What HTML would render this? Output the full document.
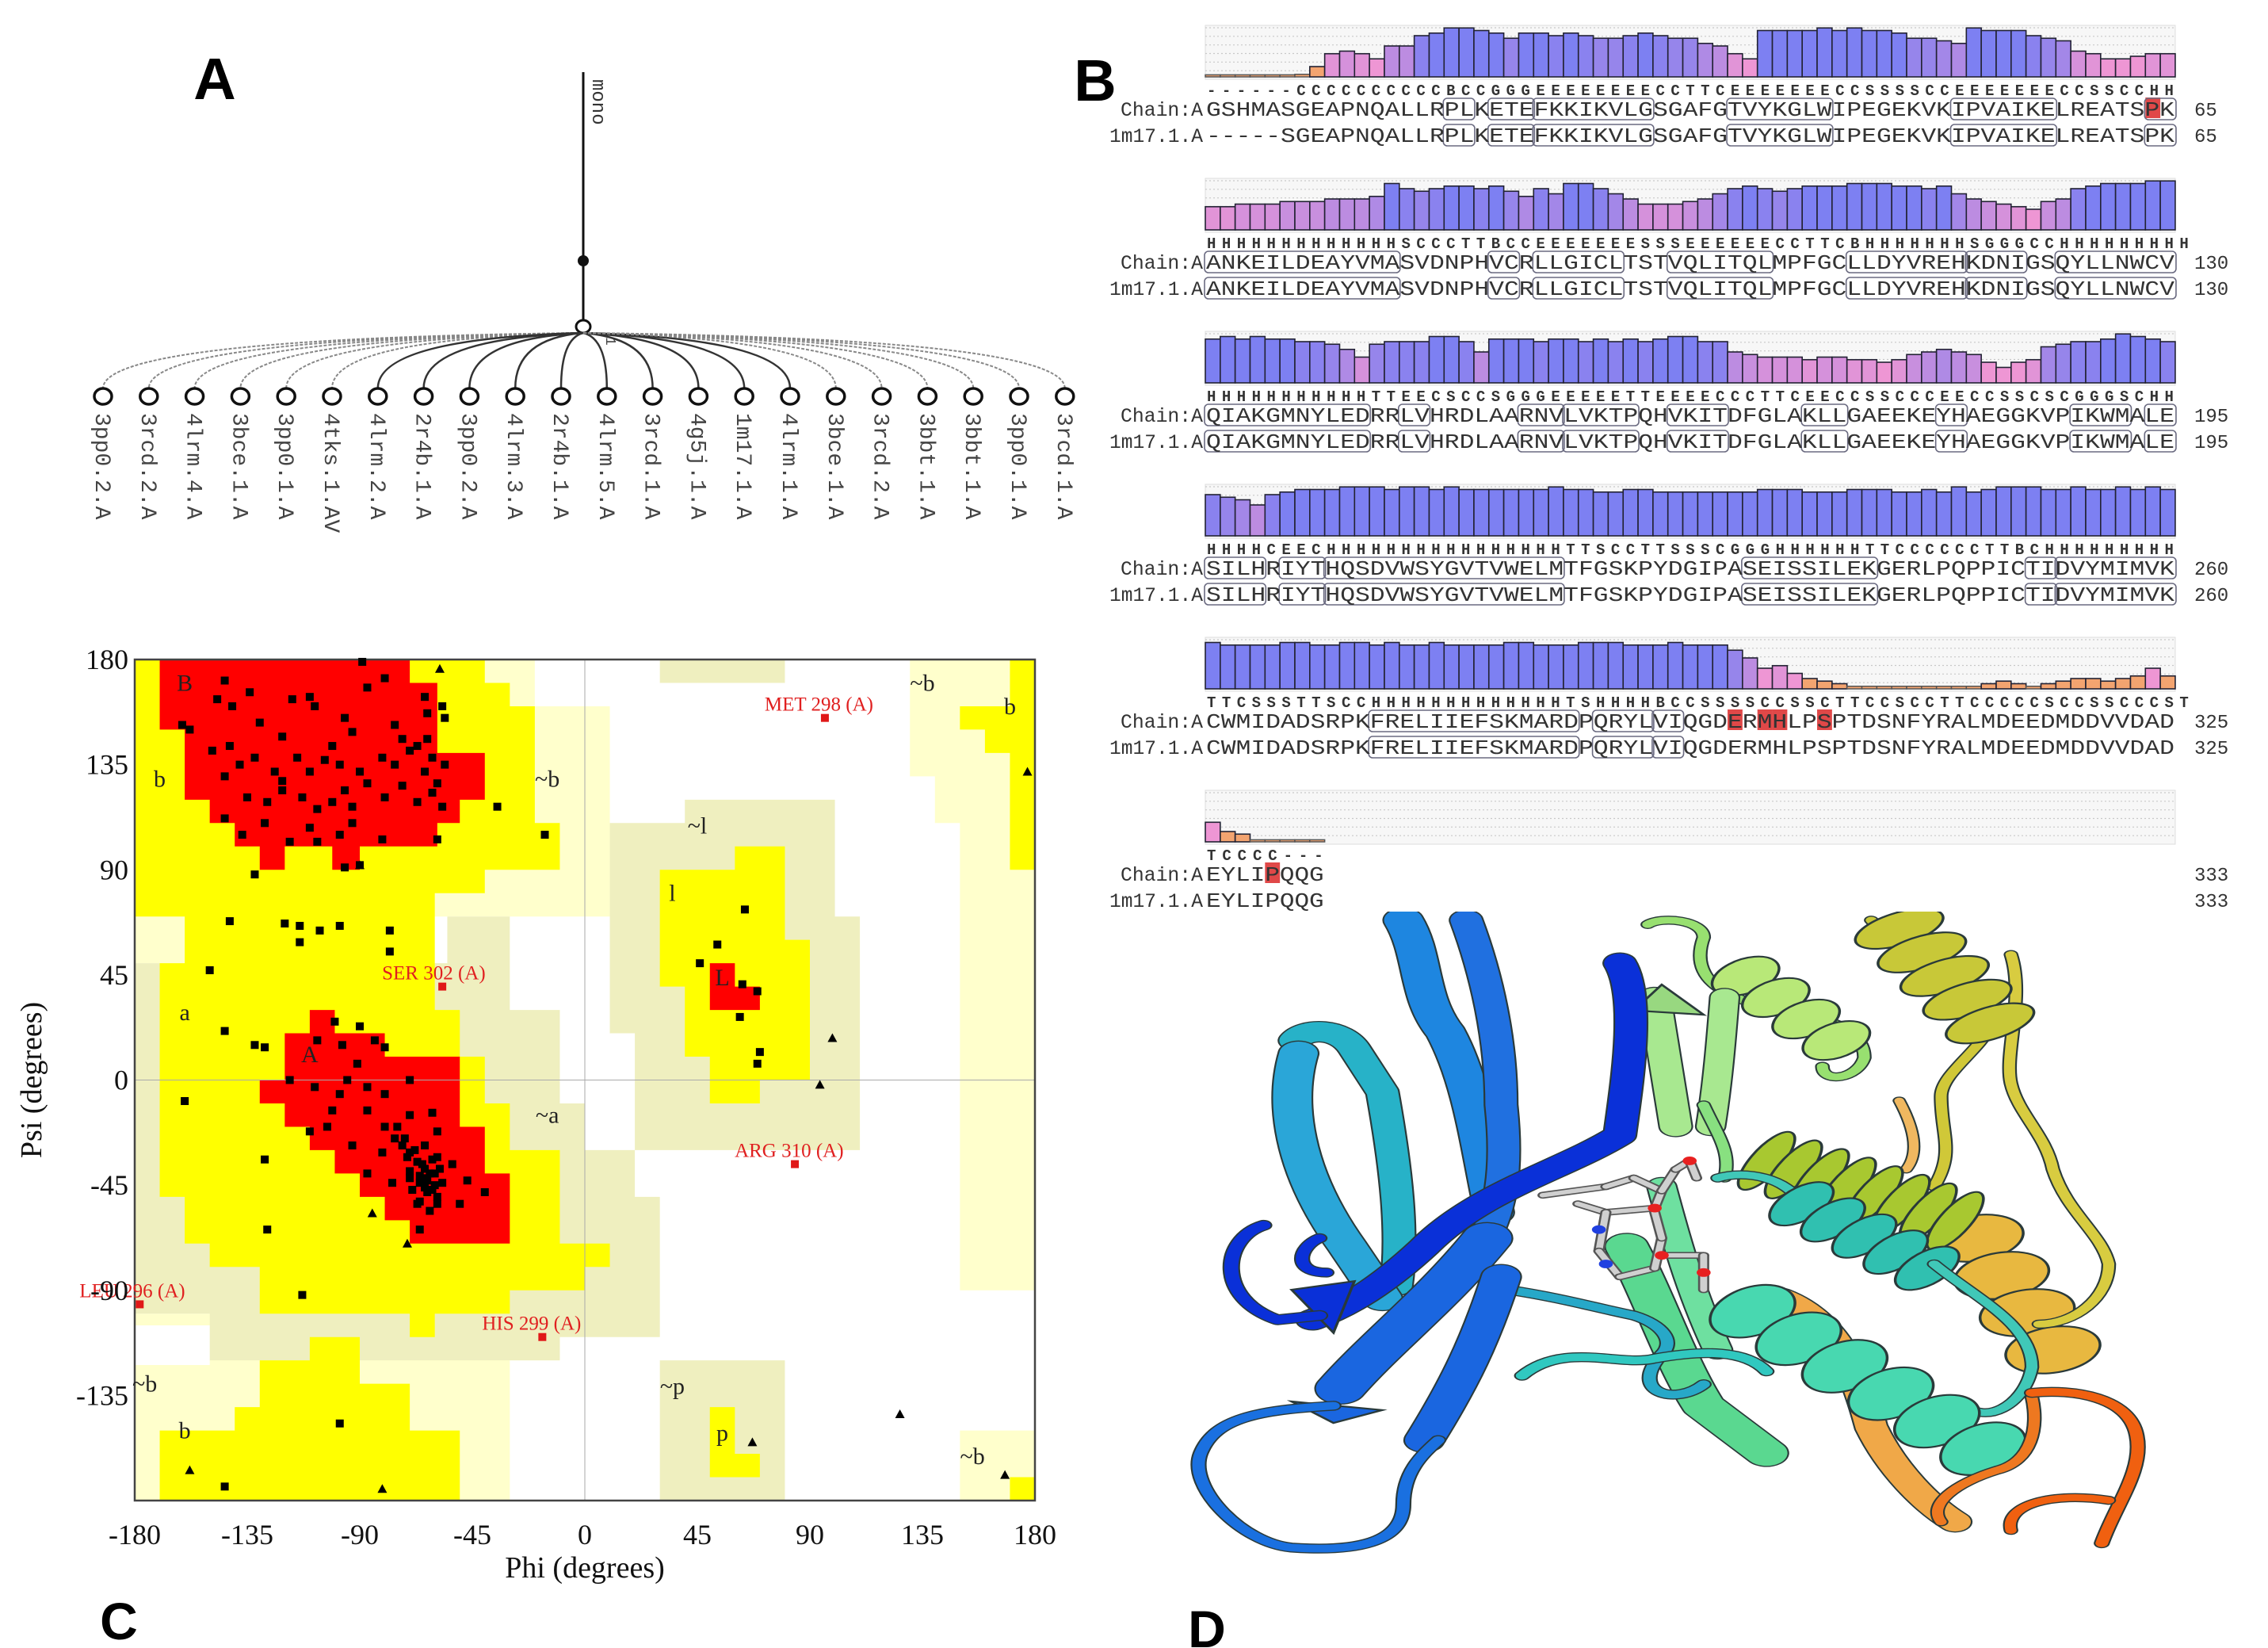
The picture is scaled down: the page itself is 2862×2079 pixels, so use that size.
<!DOCTYPE html>
<html><head><meta charset="utf-8"><title>Figure</title>
<style>
html,body{margin:0;padding:0;background:#fff;}
svg{display:block;}
</style></head>
<body>
<svg id="fig" xmlns="http://www.w3.org/2000/svg" width="2862" height="2079" viewBox="0 0 2862 2079">
<rect x="0" y="0" width="2862" height="2079" fill="#fff"/>
<g id="panelA"></g>
<g id="panelB"></g>
<g id="panelC"></g>
<svg id="panelD" x="1480" y="1150" width="1382" height="850" viewBox="0 0 1568 1568" preserveAspectRatio="none"></svg>
<text x="271" y="125" font-family="Liberation Sans, sans-serif" font-weight="bold" font-size="74" text-anchor="middle">A</text>
<text x="1382" y="127" font-family="Liberation Sans, sans-serif" font-weight="bold" font-size="74" text-anchor="middle">B</text>
<text x="150" y="2068" font-family="Liberation Sans, sans-serif" font-weight="bold" font-size="66" text-anchor="middle">C</text>
<text x="1523" y="2078" font-family="Liberation Sans, sans-serif" font-weight="bold" font-size="66" text-anchor="middle">D</text>
</svg>
<script>
// ================= DATA =================
// Panel A tree leaves
const treeLeaves = ["3pp0.2.A","3rcd.2.A","4lrm.4.A","3bce.1.A","3pp0.1.A","4tks.1.AV","4lrm.2.A","2r4b.1.A","3pp0.2.A","4lrm.3.A","2r4b.1.A","4lrm.5.A","3rcd.1.A","4g5j.1.A","1m17.1.A","4lrm.1.A","3bce.1.A","3rcd.2.A","3bbt.1.A","3bbt.1.A","3pp0.1.A","3rcd.1.A"];

// Panel B alignment
const occ1 = [0.04,0.04,0.04,0.04,0.04,0.04,0.05,0.2,0.45,0.5,0.45,0.35,0.6,0.6,0.8,0.85,0.95,0.95,0.9,0.85,0.75,0.85,0.85,0.8,0.85,0.8,0.75,0.75,0.8,0.85,0.8,0.75,0.75,0.65,0.6,0.45,0.35,0.9,0.9,0.9,0.9,0.95,0.9,0.95,0.9,0.9,0.85,0.75,0.75,0.7,0.65,0.95,0.9,0.9,0.9,0.8,0.75,0.7,0.5,0.45,0.35,0.35,0.4,0.45,0.45];
const occ2 = [0.45,0.45,0.5,0.5,0.5,0.55,0.55,0.55,0.6,0.6,0.6,0.65,0.9,0.8,0.75,0.8,0.85,0.85,0.8,0.85,0.75,0.65,0.8,0.7,0.9,0.9,0.8,0.7,0.6,0.5,0.5,0.5,0.55,0.6,0.7,0.8,0.85,0.8,0.75,0.8,0.85,0.85,0.85,0.9,0.9,0.9,0.85,0.85,0.8,0.85,0.7,0.6,0.55,0.5,0.45,0.4,0.55,0.6,0.8,0.85,0.9,0.9,0.9,0.95,0.95];
const occ3 = [0.85,0.9,0.85,0.9,0.85,0.85,0.8,0.8,0.75,0.65,0.5,0.75,0.8,0.8,0.8,0.9,0.9,0.8,0.6,0.85,0.85,0.85,0.8,0.85,0.85,0.8,0.85,0.8,0.85,0.8,0.85,0.9,0.9,0.8,0.8,0.6,0.55,0.5,0.5,0.5,0.45,0.5,0.5,0.45,0.45,0.4,0.45,0.55,0.6,0.65,0.6,0.55,0.4,0.3,0.4,0.45,0.7,0.75,0.8,0.8,0.85,0.95,0.9,0.85,0.8];
const occ4 = [0.8,0.75,0.7,0.6,0.8,0.85,0.9,0.9,0.9,0.95,0.95,0.95,0.9,0.95,0.95,0.9,0.95,0.9,0.9,0.9,0.9,0.9,0.9,0.95,0.9,0.9,0.85,0.85,0.9,0.9,0.85,0.85,0.85,0.85,0.85,0.85,0.85,0.9,0.9,0.9,0.85,0.85,0.85,0.9,0.9,0.9,0.85,0.85,0.9,0.85,0.95,0.85,0.9,0.95,0.95,0.95,0.9,0.9,0.95,0.9,0.9,0.95,0.9,0.95,0.9];
const occ5 = [0.9,0.85,0.85,0.85,0.85,0.9,0.9,0.85,0.85,0.9,0.9,0.85,0.9,0.85,0.85,0.9,0.85,0.85,0.85,0.85,0.9,0.9,0.85,0.85,0.85,0.9,0.9,0.9,0.85,0.85,0.85,0.9,0.85,0.85,0.85,0.75,0.6,0.4,0.45,0.3,0.2,0.15,0.1,0.05,0.05,0.05,0.05,0.05,0.05,0.05,0.05,0.05,0.1,0.15,0.1,0.05,0.1,0.15,0.2,0.2,0.15,0.2,0.25,0.4,0.25];
const occ6 = [0.38,0.2,0.15,0.04,0.04,0.04,0.04,0.04];
const ssRows = ["------CCCCCCCCCCBCCGGGEEEEEEEECCTTCEEEEEEECCSSSSCCEEEEEEECCSSCCHH",
"HHHHHHHHHHHHHSCCCTTBCCEEEEEEESSSEEEEEECCTTCBHHHHHHHSGGGCCHHHHHHHHH",
"HHHHHHHHHHHTTEECSCCSGGGEEEEETTEEEECCCTTCEECCSSCCCEECCSSCSCGGGSCHH",
"HHHHCEECHHHHHHHHHHHHHHHHTTSCCTTSSSCGGGHHHHHHTTCCCCCCTTBCHHHHHHHHH",
"TTCSSSTTSCCHHHHHHHHHHHHHTSHHHHBCCSSSSCCSSCTTCCSCCTTCCCCCSCCSSCCCST",
"TCCCC---"];
const chainRows = ["GSHMASGEAPNQALLRPLKETEFKKIKVLGSGAFGTVYKGLWIPEGEKVKIPVAIKELREATSPK",
"ANKEILDEAYVMASVDNPHVCRLLGICLTSTVQLITQLMPFGCLLDYVREHKDNIGSQYLLNWCV",
"QIAKGMNYLEDRRLVHRDLAARNVLVKTPQHVKITDFGLAKLLGAEEKEYHAEGGKVPIKWMALE",
"SILHRIYTHQSDVWSYGVTVWELMTFGSKPYDGIPASEISSILEKGERLPQPPICTIDVYMIMVK",
"CWMIDADSRPKFRELIIEFSKMARDPQRYLVIQGDERMHLPSPTDSNFYRALMDEEDMDDVVDAD",
"EYLIPQQG"];
const queryRows = ["-----SGEAPNQALLRPLKETEFKKIKVLGSGAFGTVYKGLWIPEGEKVKIPVAIKELREATSPK",
"ANKEILDEAYVMASVDNPHVCRLLGICLTSTVQLITQLMPFGCLLDYVREHKDNIGSQYLLNWCV",
"QIAKGMNYLEDRRLVHRDLAARNVLVKTPQHVKITDFGLAKLLGAEEKEYHAEGGKVPIKWMALE",
"SILHRIYTHQSDVWSYGVTVWELMTFGSKPYDGIPASEISSILEKGERLPQPPICTIDVYMIMVK",
"CWMIDADSRPKFRELIIEFSKMARDPQRYLVIQGDERMHLPSPTDSNFYRALMDEEDMDDVVDAD",
"EYLIPQQG"];
const rowEnds = [65,130,195,260,325,333];
const ssBoxes = [[[16,17],[19,21],[22,29],[35,41],[50,56],[63,64]],
[[0,12],[19,20],[22,27],[31,37],[43,50],[51,54],[57,64]],
[[0,10],[13,14],[21,23],[24,28],[31,34],[40,42],[49,50],[58,61],[63,64]],
[[0,3],[5,7],[8,23],[36,44],[55,56],[57,64]],
[[11,24],[26,29],[30,31]],
[]];
const redMarks = [[63],[],[],[],[35,37,38,41],[4]];

// Panel C Ramachandran data
const phiTicks = [-180,-135,-90,-45,0,45,90,135,180];
const psiTicks = [180,135,90,45,0,-45,-90,-135];
const sqPhi = [-89,-80,-144,-134,-110,-87,-64,-63,-57,-56,-161,-158,-147,-141,-130,-121,-117,-108,-96,-93,-76,-73,-67,-63,-61,-56,-149,-142,-138,-144,-132,-124,-121,-115,-110,-104,-101,-98,-90,-81,-76,-70,-64,-59,-135,-127,-121,-113,-107,-101,-96,-93,-87,-80,-73,-67,-61,-57,-144,-137,-128,-118,-110,-107,-98,-93,-81,-96,-90,-132,-35,-16,-59,
-142,-120,-114,-114,-106,-98,-78,-78,-150,-160,-144,-132,-128,-128,-127,-113,-98,-144,
-100,-90,-107,-97,-84,-95,-91,-80,-118,-108,-98,-87,-80,-70,-101,-87,-80,-70,-61,-59,-110,-103,-93,-81,-76,-70,-64,-59,-87,-77,-70,-64,-61,-67,-59,-53,-47,-40,-50,-66,-73,-71,-67,-64,-63,-60,-57,-66,-69,
-62,-65,-60,-63,-58,-66,-61,-68,-64,-59,-70,-72,-75,-66,-62,
64,53,46,63,69,62,70,69];
const sqPsi = [179,172,171,166,164,168,164,157,160,155,152,150,163,160,153,147,163,160,155,149,152,146,143,146,138,135,141,143,135,130,138,132,128,138,132,137,143,135,132,138,135,141,132,127,121,119,124,121,116,119,124,117,127,121,126,119,123,117,112,105,110,102,108,102,105,110,103,91,92,88,117,105,103,
68,67,66,59,64,66,64,55,47,-9,21,15,14,-34,-64,-92,-147,-174,
25,23,17,15,17,0,7,14,0,-3,-6,-3,-6,0,-13,-13,-20,-15,-14,-22,-22,-20,-28,-31,-25,-31,-28,-33,-40,-44,-39,-42,-47,-53,-53,-36,-43,-48,-53,-64,-28,-33,-35,-38,-43,-40,-44,-44,-47,
-40,-36,-45,-48,-38,-41,-34,-30,-46,-50,-42,-25,-20,-52,-56,
73,58,50,41,38,27,12,7];
const triPhi = [-58,-90,99,94,177,-85,-71,67,126,168,-158,-81];
const triPsi = [176,92,18,-2,132,-57,-70,-155,-143,-169,-167,-175];
const outNames = ["MET 298 (A)","SER 302 (A)","ARG 310 (A)","LEU 296 (A)","HIS 299 (A)"];
const outPhi = [96,-57,84,-178,-17];
const outPsi = [155,40,-36,-96,-110];
const regionLabels = [["B",-160,170],["b",-170,129],["a",-160,29],["A",-110,11],["L",55,44],["l",35,80],["~l",45,109],["~b",-15,129],["~a",-15,-15],["~b",135,170],["b",170,160],["~b",-176,-130],["b",-160,-150],["~p",35,-131],["p",55,-151],["~b",155,-161]];

// region polygons [phi,psi]
const lightRegions = [
 [[-180,180],[-20,180],[-20,160],[10,160],[10,70],[-160,70],[-160,50],[-180,50]],
 [[-180,-100],[-10,-100],[-10,-120],[-30,-120],[-30,-180],[-180,-180]],
 [[130,180],[180,180],[180,-90],[150,-90],[150,110],[140,110],[140,130],[130,130]],
 [[150,-150],[180,-150],[180,-180],[150,-180]]];
const beigeRegions = [
 [[-180,50],[-55,50],[-55,70],[-30,70],[-30,30],[-10,30],[-10,-10],[0,-10],[0,-30],[20,-30],[20,-50],[30,-50],[30,-110],[-10,-110],[-10,-120],[-150,-120],[-150,-100],[-180,-100]],
 [[10,110],[40,110],[40,120],[100,120],[100,70],[110,70],[110,-30],[20,-30],[20,20],[10,20]],
 [[30,-120],[80,-120],[80,-180],[30,-180]],
 [[30,180],[80,180],[80,170],[30,170]]];
const yellowRegions = [
 [[-180,180],[-40,180],[-40,170],[-30,170],[-30,160],[-20,160],[-20,110],[-10,110],[-10,90],[-40,90],[-40,80],[-60,80],[-60,30],[-50,30],[-50,10],[-40,10],[-40,-10],[-30,-10],[-30,-30],[-10,-30],[-10,-70],[10,-70],[10,-80],[0,-80],[0,-90],[-30,-90],[-30,-100],[-60,-100],[-60,-110],[-70,-110],[-70,-100],[-130,-100],[-130,-80],[-150,-80],[-150,-70],[-160,-70],[-160,-50],[-170,-50],[-170,50],[-160,50],[-160,70],[-180,70]],
 [[-170,-180],[-50,-180],[-50,-150],[-70,-150],[-70,-130],[-90,-130],[-90,-110],[-110,-110],[-110,-120],[-130,-120],[-130,-140],[-140,-140],[-140,-150],[-170,-150]],
 [[30,90],[60,90],[60,100],[80,100],[80,60],[90,60],[90,0],[70,0],[70,-10],[50,-10],[50,10],[40,10],[40,40],[30,40]],
 [[50,-140],[60,-140],[60,-160],[70,-160],[70,-170],[50,-170]],
 [[170,180],[180,180],[180,90],[170,90],[170,140],[160,140],[160,150],[150,150],[150,160],[170,160]],
 [[170,-170],[180,-170],[180,-180],[170,-180]]];
const redRegions = [
 [[-170,180],[-70,180],[-70,170],[-59,170],[-59,140],[-40,140],[-40,120],[-50,120],[-50,110],[-59,110],[-59,100],[-90,100],[-90,90],[-101,90],[-101,100],[-120,100],[-120,90],[-130,90],[-130,100],[-140,100],[-140,110],[-150,110],[-150,120],[-160,120],[-160,150],[-170,150]],
 [[-110,30],[-100,30],[-100,20],[-80,20],[-80,10],[-50,10],[-50,-20],[-40,-20],[-40,-40],[-30,-40],[-30,-70],[-70,-70],[-70,-60],[-80,-60],[-80,-50],[-90,-50],[-90,-40],[-100,-40],[-100,-30],[-110,-30],[-110,-20],[-120,-20],[-120,-10],[-130,-10],[-130,0],[-120,0],[-120,20],[-110,20]],
 [[50,50],[60,50],[60,40],[70,40],[70,30],[50,30]]];
const whiteRegions = [[[-180,-105],[-150,-105],[-150,-122],[-180,-122]]];

// ================= HELPERS =================
const NS = "http://www.w3.org/2000/svg";
function mk(tag, parent, attrs){
  const e = document.createElementNS(NS, tag);
  for (const k in attrs) e.setAttribute(k, attrs[k]);
  parent.appendChild(e);
  return e;
}

// ================= PANEL A =================
(function(){
  const g = document.getElementById('panelA');
  const x0 = 130, dx = 57.8, rootX = 736, rootY = 412, leafY = 500;
  const stem = mk('line', g, {x1:rootX, y1:91, x2:rootX, y2:403, stroke:'#111', 'stroke-width':3});
  
  
  const dot = mk('circle', g, {cx:rootX, cy:329, r:7, fill:'#111'});
  
  
  const rn = mk('ellipse', g, {cx:rootX, cy:rootY, rx:9, ry:8, fill:'#fff', stroke:'#111', 'stroke-width':3});
  
  
  const mono = mk('text', g, {x:748, y:100, 'font-family':'Liberation Mono, monospace', 'font-size':24, fill:'#333', transform:'rotate(90 748 100)'});
  mono.textContent = 'mono';
  
  
  const one = mk('text', g, {x:765, y:425, 'font-family':'Liberation Mono, monospace', 'font-size':18, fill:'#444', transform:'rotate(90 765 425)'});
  one.textContent = '1';
  
  
  treeLeaves.forEach((name, i) => {
    const x = x0 + i*dx;
    const far = Math.abs(x - rootX) > 300;
    const p = mk('path', g, {d:`M${rootX},${rootY+8} Q${x},${rootY+15} ${x},${leafY-10}`, fill:'none', stroke: far ? '#888' : '#333', 'stroke-width': far ? 2 : 2.5, 'stroke-dasharray': far ? '4 2' : 'none'});
    
    
    const c = mk('ellipse', g, {cx:x, cy:leafY, rx:11, ry:10, fill:'#fff', stroke:'#111', 'stroke-width':3.5});
    
    
    const t = mk('text', g, {x:x-9, y:521, 'font-family':'Liberation Mono, monospace', 'font-size':28, fill:'#444', transform:`rotate(90 ${x-9} 521)`});
    t.textContent = name;
    
    
  });
})();

// ================= PANEL B =================
(function(){
  const g = document.getElementById('panelB');
  const occ = [occ1,occ2,occ3,occ4,occ5,occ6];
  const sx = 1521, cw = 18.83, blockGap = 193, chain0 = 137;
  function barColor(v){
    if (v < 0.3) return '#f3a470';
    let t = Math.max(0, Math.min(1, (v-0.4)/0.45));
    const a=[238,150,212], b=[125,128,242];
    return `rgb(${Math.round(a[0]+(b[0]-a[0])*t)},${Math.round(a[1]+(b[1]-a[1])*t)},${Math.round(a[2]+(b[2]-a[2])*t)})`;
  }
  for (let n=0;n<6;n++){
    const cy = chain0 + n*blockGap;
    const top = cy-105, bot = cy-40;
    const bg = mk('rect', g, {x:sx, y:top, width:65*cw, height:bot-top+3, fill:'#f7f7f7', stroke:'#ddd', 'stroke-width':1});
    
    
    for (let k=0;k<6;k++){
      const yy = top + 3 + k*(bot-top)/6;
      const l = mk('line', g, {x1:sx, y1:yy, x2:sx+65*cw, y2:yy, stroke:'#c8c8c8', 'stroke-width':1.2, 'stroke-dasharray':'2 3'});
      
      
    }
    occ[n].forEach((v,i)=>{
      const h = Math.max(2, v*(bot-top));
      const r = mk('rect', g, {x:sx+i*cw, y:bot-h, width:cw, height:h, fill:barColor(v), stroke: v<0.08 ? '#555' : '#223', 'stroke-width': v<0.08 ? 1.5 : 1.6});
      
      
    });
    // red highlights
    redMarks[n].forEach(i=>{
      const r = mk('rect', g, {x:sx+i*cw, y:cy-14, width:cw, height:26, fill:'#e04848'});
      
      
    });
    // boxes
    ssBoxes[n].forEach(([a,b])=>{
      [cy-13, cy+20].forEach(yy=>{
        const r = mk('rect', g, {x:sx+a*cw-1, y:yy, width:(b-a+1)*cw+2, height:27, rx:5, fill:'none', stroke:'#6a6a80', 'stroke-width':1.6});
        
        
      });
    });
    const len = chainRows[n].length;
    const ss = mk('text', g, {x:sx+2, y:cy-17, 'font-family':'Liberation Mono, monospace', 'font-weight':'bold', 'font-size':19, fill:'#333', textLength:ssRows[n].length*cw-4, lengthAdjust:'spacing'});
    ss.textContent = ssRows[n];
    
    
    const lab1 = mk('text', g, {x:1414, y:cy+9, 'font-family':'Liberation Mono, monospace', 'font-size':25, fill:'#333', textLength:104, lengthAdjust:'spacingAndGlyphs'});
    lab1.textContent = 'Chain:A';
    
    
    const s1 = mk('text', g, {x:sx+1, y:cy+9, 'font-family':'Liberation Mono, monospace', 'font-size':26, fill:'#333', textLength:len*cw-2, lengthAdjust:'spacingAndGlyphs'});
    s1.textContent = chainRows[n];
    
    
    const lab2 = mk('text', g, {x:1400, y:cy+42, 'font-family':'Liberation Mono, monospace', 'font-size':25, fill:'#333', textLength:118, lengthAdjust:'spacingAndGlyphs'});
    lab2.textContent = '1m17.1.A';
    
    
    const s2 = mk('text', g, {x:sx+1, y:cy+42, 'font-family':'Liberation Mono, monospace', 'font-size':26, fill:'#333', textLength:queryRows[n].length*cw-2, lengthAdjust:'spacingAndGlyphs'});
    s2.textContent = queryRows[n];
    
    
    [cy+9, cy+42].forEach(yy=>{
      const e = mk('text', g, {x:2769, y:yy, 'font-family':'Liberation Mono, monospace', 'font-size':24, fill:'#333'});
      e.textContent = rowEnds[n];
      
      
    });
  }
})();

// ================= PANEL C =================
(function(){
  const g = document.getElementById('panelC');
  const L=170, R=1306, T=832, B=1893;
  const X = phi => L + (phi+180)/360*(R-L);
  const Y = psi => T + (180-psi)/360*(B-T);
  function poly(pts, fill, name){
    const p = mk('polygon', g, {points: pts.map(([a,b])=>X(a)+','+Y(b)).join(' '), fill:fill});
    
    
  }
  lightRegions.forEach(r=>poly(r,'#ffffcc','generous-region'));
  beigeRegions.forEach(r=>poly(r,'#efefbf','generous-region'));
  yellowRegions.forEach(r=>poly(r,'#ffff00','allowed-region'));
  redRegions.forEach(r=>poly(r,'#ff0000','core-region'));
  whiteRegions.forEach(r=>poly(r,'#ffffff','disallowed-region'));
  const gx = mk('line', g, {x1:X(0), y1:T, x2:X(0), y2:B, stroke:'#aaa', 'stroke-width':1});
  
  
  const gy = mk('line', g, {x1:L, y1:Y(0), x2:R, y2:Y(0), stroke:'#aaa', 'stroke-width':1});
  
  
  const frame = mk('rect', g, {x:L, y:T, width:R-L, height:B-T, fill:'none', stroke:'#444', 'stroke-width':2.5});
  
  
  regionLabels.forEach(([t,a,b])=>{
    const e = mk('text', g, {x:X(a), y:Y(b)+10, 'font-family':'Liberation Serif, serif', 'font-size':30, fill:'#222', 'text-anchor':'middle'});
    e.textContent = t;
    
    
  });
  sqPhi.forEach((a,i)=>{
    const s = mk('rect', g, {x:X(a)-5, y:Y(sqPsi[i])-5, width:10, height:10, fill:'#000'});
    
    
  });
  triPhi.forEach((a,i)=>{
    const x=X(a), y=Y(triPsi[i]);
    const t = mk('polygon', g, {points:`${x},${y-6} ${x+6},${y+5} ${x-6},${y+5}`, fill:'#000'});
    
    
  });
  outNames.forEach((n,i)=>{
    const x=X(outPhi[i]), y=Y(outPsi[i]);
    const s = mk('rect', g, {x:x-5, y:y-5, width:10, height:10, fill:'#e01818'});
    
    
    const t = mk('text', g, {x:x-76, y:y-9, 'font-family':'Liberation Serif, serif', 'font-size':25, fill:'#e02020'});
    t.textContent = n;
    
    
  });
  phiTicks.forEach(v=>{
    const t = mk('text', g, {x:X(v), y:1948, 'font-family':'Liberation Serif, serif', 'font-size':36, fill:'#111', 'text-anchor':'middle'});
    t.textContent = v;
    
    
  });
  psiTicks.forEach(v=>{
    const t = mk('text', g, {x:162, y:Y(v)+12, 'font-family':'Liberation Serif, serif', 'font-size':36, fill:'#111', 'text-anchor':'end'});
    t.textContent = v;
    
    
  });
  const xt = mk('text', g, {x:X(0), y:1990, 'font-family':'Liberation Serif, serif', 'font-size':38, fill:'#111', 'text-anchor':'middle'});
  xt.textContent = 'Phi (degrees)';
  
  
  const yt = mk('text', g, {x:52, y:Y(0), 'font-family':'Liberation Serif, serif', 'font-size':38, fill:'#111', 'text-anchor':'middle', transform:`rotate(-90 52 ${Y(0)})`});
  yt.textContent = 'Psi (degrees)';
  
  
})();

// ================= PANEL D =================
(function(){
  const g = document.getElementById('panelD');
  function rib(d, color, w, name){
    const o = mk('path', g, {d:d, fill:'none', stroke:'#2a3a3a', 'stroke-width':w+5, 'stroke-linecap':'round', 'stroke-linejoin':'round'});
    
    
    const p = mk('path', g, {d:d, fill:'none', stroke:color, 'stroke-width':w, 'stroke-linecap':'round', 'stroke-linejoin':'round'});
    
    
  }
  function arrow(pts, color, name){
    const p = mk('polygon', g, {points:pts, fill:color, stroke:'#2a3a3a', 'stroke-width':4});
    
    
  }
  function helix(x1,y1,x2,y2,n,R,color,name){
    const ang = Math.atan2(y2-y1,x2-x1)*180/Math.PI;
    const step = Math.hypot(x2-x1,y2-y1)/n;
    for(let i=0;i<=n;i++){
      const cx = x1+(x2-x1)*i/n, cy = y1+(y2-y1)*i/n;
      const e = mk('ellipse', g, {cx:cx, cy:cy, rx:step*0.55, ry:R, fill:color, stroke:'#2a3a3a', 'stroke-width':4, transform:`rotate(${ang} ${cx} ${cy})`});
      
      
    }
  }
  // background orange / yellow
  rib('M1040,440 C1060,500 1070,560 1050,600','#f0b860',14,'orange-loop');
  rib('M870,900 C950,950 980,1080 1000,1200 C1030,1300 1080,1380 1120,1420','#f0a848',45,'orange-helix-back');
  helix(1150,760,1260,1020,3,70,'#e8b840','orange-helix');
  rib('M1200,100 C1220,200 1190,330 1200,400 C1210,470 1250,520 1260,600 C1280,700 1330,750 1340,820 C1340,900 1290,960 1240,960','#d8cc40',16,'yellow-loop');
  rib('M1170,270 C1150,330 1100,380 1100,430 C1100,520 1120,560 1090,640','#d0c838',16,'yellow-loop');
  rib('M1000,20 C1020,60 1040,40 1060,60','#c8c838',16,'yellow-loop');
  helix(1040,40,1170,260,4,70,'#c8c838','yellow-helix');
  // green region
  rib('M680,30 C700,10 760,20 760,60 C740,150 780,200 870,230 C950,250 990,280 990,340 C980,390 930,400 930,360','#98e070',16,'green-loop');
  helix(820,150,950,300,3,55,'#b8e878','light-green-helix');
  rib('M690,200 C700,300 710,400 720,500','#a8e890',45,'green-strand');
  rib('M790,200 C785,300 780,400 770,500','#a8e890',40,'green-strand');
  arrow('660,230 700,170 760,240','#98d880','green-arrow');
  rib('M760,450 C780,520 800,560 790,620','#88e080',16,'green-loop');
  helix(850,580,1120,720,7,75,'#a8c830','yellow-green-helix');
  rib('M650,780 C690,900 720,1050 760,1150 L850,1260','#5ad890',60,'green-sheet');
  rib('M700,640 C720,760 740,880 780,1020','#6ee0a0',40,'green-sheet');
  // blue / cyan strands
  rib('M175,300 C190,270 240,270 260,320 L300,420 C320,600 330,750 320,870','#27b2c8',45,'teal-strand');
  rib('M180,330 C160,440 170,600 250,780 L300,900','#2aa6d8',55,'cyan-strand');
  rib('M330,20 C360,100 350,200 390,280 C430,400 440,550 460,700','#1e86e0',55,'blue-strand');
  rib('M420,20 C450,150 470,300 470,450 C480,600 470,700 440,780','#2070e0',45,'blue-strand');
  rib('M480,880 C560,900 600,920 660,940 C700,960 720,1000 700,1030 C650,1120 720,1150 760,1100','#27a8c8',18,'teal-loop');
  rib('M500,1080 C560,1000 640,1060 690,1040 C760,1020 820,1020 850,1070','#30c8c0',18,'teal-loop');
  rib('M640,120 C670,200 650,400 640,520 C560,600 440,650 360,780 C300,870 250,920 200,950','#0a30d8',45,'dark-blue-strand');
  arrow('170,880 260,860 230,980','#0a30d8','dark-blue-arrow');
  rib('M130,730 C70,760 60,900 150,950 L210,940','#0a30d8',20,'dark-blue-loop');
  rib('M210,760 C180,780 170,840 220,840','#0a30d8',18,'dark-blue-loop');
  rib('M450,760 C380,900 300,1000 240,1110','#1a66e0',70,'blue-sheet');
  arrow('170,1140 300,1160 230,1190','#1a66e0','blue-arrow');
  rib('M470,850 C440,1000 410,1100 360,1230','#1a66e0',55,'blue-sheet');
  rib('M230,1150 C120,1160 60,1180 40,1260 C20,1340 100,1470 170,1480 C260,1490 330,1470 330,1380 C330,1300 360,1260 380,1230','#1a70e0',18,'blue-loop');
  // teal helices
  rib('M780,620 C820,600 880,620 900,680','#40c8b8',16,'teal-loop');
  helix(900,680,1080,830,4,60,'#30c0b0','teal-helix');
  rib('M1090,820 C1150,900 1230,960 1230,1060 C1220,1150 1160,1200 1130,1140','#40c8b8',16,'teal-loop');
  helix(830,930,1160,1250,5,70,'#48d8b0','aquamarine-helix');
  // orange-red loop
  rib('M1230,1130 C1240,1200 1230,1280 1180,1300 C1120,1330 1080,1380 1100,1420','#ee7820',16,'orange-loop');
  rib('M1230,1120 C1290,1110 1370,1130 1380,1220 C1390,1300 1350,1380 1330,1470','#f06010',18,'red-orange-loop');
  rib('M1200,1440 C1190,1380 1260,1350 1340,1370','#f06010',16,'red-orange-loop');
  // ligand
  const lig = [[530,660,620,640],[620,640,660,620],[660,620,700,650],[700,650,690,690],[690,690,620,700],[620,700,580,680],[620,700,610,790],[610,790,640,850],[640,850,690,830],[690,830,700,760],[700,760,690,700],[700,800,760,800],[760,800,760,880],[700,650,720,600],[720,600,740,580],[740,580,750,620]];
  lig.forEach(s=>{
    const a = mk('line', g, {x1:s[0],y1:s[1],x2:s[2],y2:s[3],stroke:'#555','stroke-width':16,'stroke-linecap':'round'});
    
    
    const b = mk('line', g, {x1:s[0],y1:s[1],x2:s[2],y2:s[3],stroke:'#d0d0d0','stroke-width':10,'stroke-linecap':'round'});
    
    
  });
  [[690,690,'#e82020'],[700,800,'#e82020'],[740,580,'#e82020'],[760,840,'#e82020'],[610,740,'#2040e0'],[620,820,'#2040e0']].forEach(([x,y,c])=>{
    const a = mk('circle', g, {cx:x, cy:y, r:10, fill:c});
    
    
  });
})();
</script>
</body></html>
